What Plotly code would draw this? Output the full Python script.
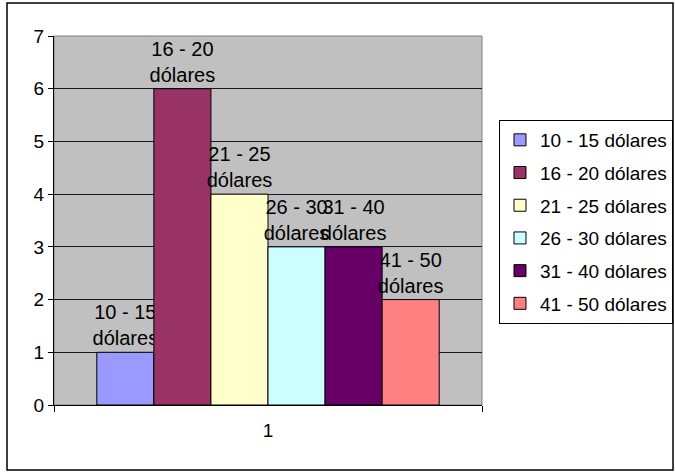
import plotly.graph_objects as go

# Price ranges (series), their counts and bar colours
categories = ["1"]
series_names = ["10 - 15 dólares", "16 - 20 dólares", "21 - 25 dólares",
                "26 - 30 dólares", "31 - 40 dólares", "41 - 50 dólares"]
series_values = [1, 6, 4, 3, 3, 2]
series_colors = ["#9999FF", "#993366", "#FFFFCC", "#CCFFFF", "#660066", "#FF8080"]
y_ticks = [0, 1, 2, 3, 4, 5, 6, 7]

FONT = "Liberation Sans, Arial, sans-serif"

fig = go.Figure()
for i, (name, val, col) in enumerate(zip(series_names, series_values, series_colors)):
    label = name.replace(" dólares", "<br>dólares")
    fig.add_trace(go.Bar(
        x=categories, y=[val], name=name,
        marker=dict(color=col, line=dict(color="#000000", width=1)),
        text=[label], textposition="outside", constraintext="none",
        textfont=dict(family=FONT, size=20, color="#000000"),
        cliponaxis=False, legendgroup=f"g{i}",
    ))

fig.update_layout(
    width=675, height=472,
    margin=dict(l=54, r=193, t=36, b=67, autoexpand=False),
    paper_bgcolor="#FFFFFF", plot_bgcolor="#C0C0C0",
    barmode="group", bargap=0.2, bargroupgap=0,
    font=dict(family=FONT, size=19, color="#000000"),
    showlegend=True,
    legend=dict(
        x=1.0397, y=0.7724, xanchor="left", yanchor="top",
        bgcolor="#FFFFFF", bordercolor="#000000", borderwidth=1,
        font=dict(family=FONT, size=19, color="#000000"),
        tracegroupgap=5, itemwidth=30,
    ),
    xaxis=dict(
        type="category", showgrid=False, showline=True, linecolor="#000000",
        linewidth=1, ticks="outside", ticklen=6, tickcolor="#000000",
        tickson="boundaries", ticklabelstandoff=8,
        tickfont=dict(family=FONT, size=19),
    ),
    yaxis=dict(
        range=[0, 7], tickvals=y_ticks, showgrid=True, gridcolor="#1a1a1a",
        gridwidth=1, showline=True, linecolor="#000000", linewidth=1,
        ticks="outside", ticklen=5, tickcolor="#000000", zeroline=False,
        tickfont=dict(family=FONT, size=19),
    ),
    shapes=[
        # gray frame of the plot area
        dict(type="rect", xref="paper", yref="paper", x0=0, x1=1, y0=0, y1=1,
             line=dict(color="#808080", width=1), layer="below"),
        # outer chart border
        dict(type="rect", xref="paper", yref="paper",
             x0=-0.1098, x1=1.4463, y0=-0.1762, y1=1.0894,
             line=dict(color="#000000", width=1.5)),
    ],
)

fig.write_html("out.html")
